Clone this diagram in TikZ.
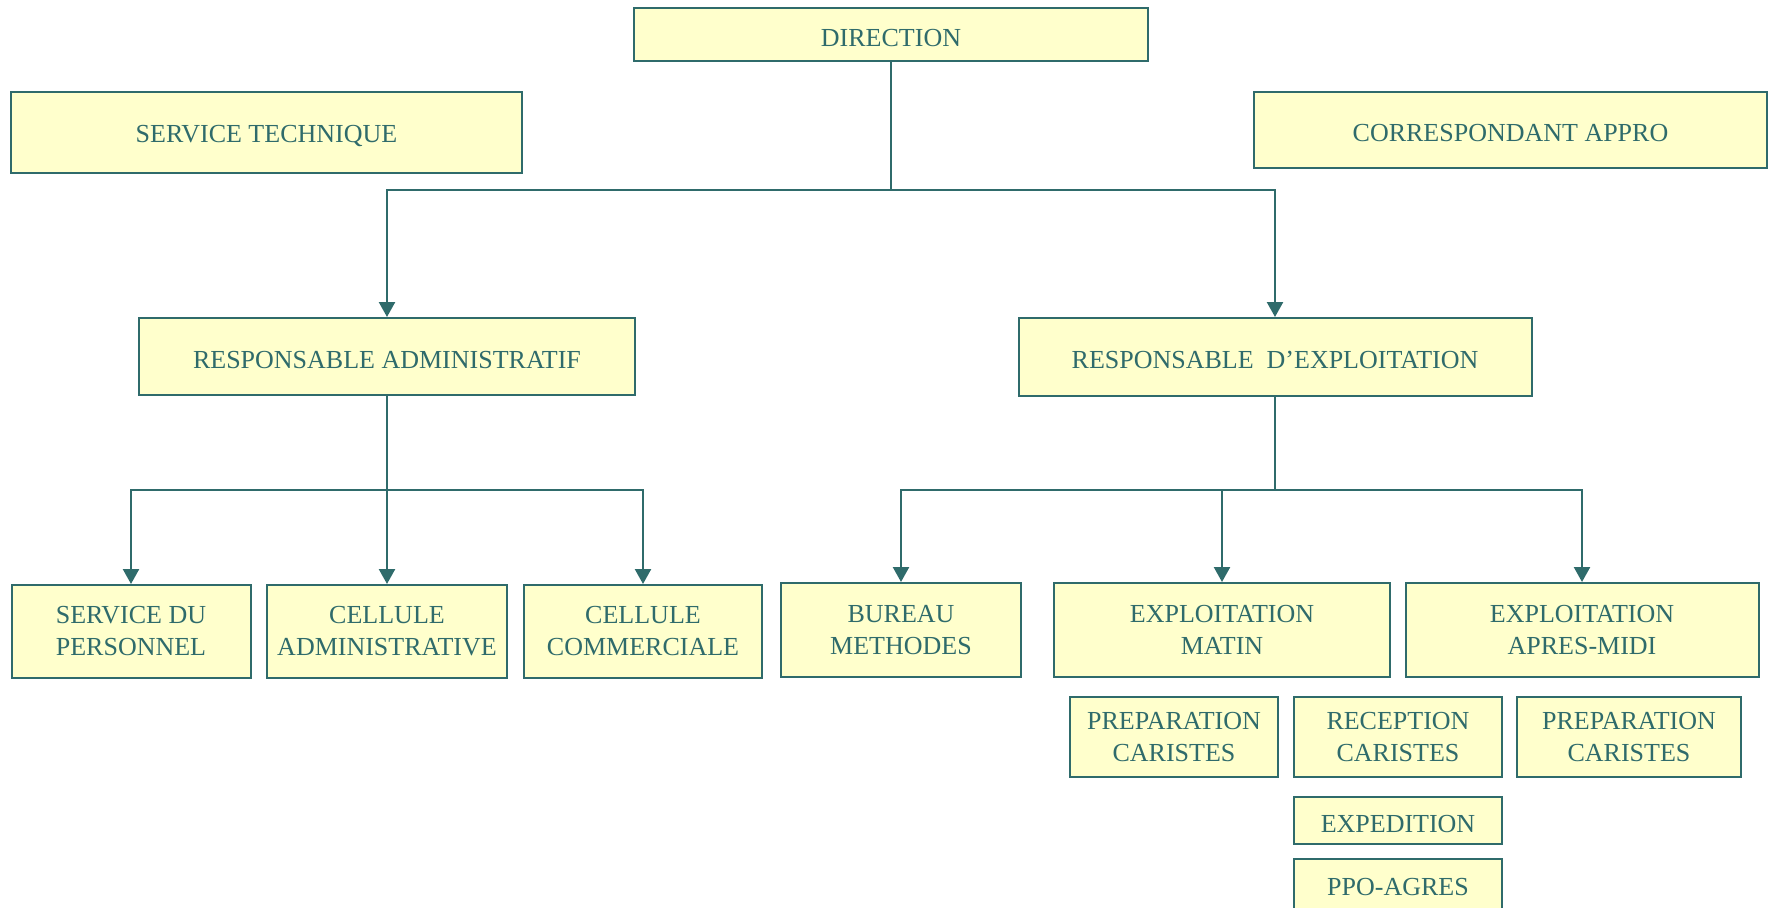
\documentclass[tikz,border=0pt]{standalone}
\usepackage{fontspec}
\setmainfont{Liberation Serif}
\usetikzlibrary{positioning,arrows.meta}
\definecolor{orgline}{HTML}{2F6B6B}
\definecolor{orgfill}{HTML}{FFFFCC}
\begin{document}
\begin{tikzpicture}[x=0.5pt, y=-0.5pt,
  box/.style={draw=orgline, fill=orgfill, line width=1pt, text=orgline, align=center,
    inner sep=0pt, font=\fontsize{13}{16}\selectfont},
  onebox/.style={box, text height=12pt},
  twobox/.style={box, yshift=0pt},
  link/.style={draw=orgline, line width=1.2pt},
  >={Triangle[length=7.5pt, width=8pt]}]
\useasboundingbox (0,0) rectangle (1773,907);
% top level
\node[onebox, minimum width=257pt, minimum height=26.5pt] (dir)   at (891,34.5)   {DIRECTION};
\node[onebox, minimum width=255.5pt, minimum height=40.5pt] (tech) at (266.5,132.5) {SERVICE TECHNIQUE};
\node[onebox, minimum width=256.5pt, minimum height=38pt] (appro) at (1510.5,130) {CORRESPONDANT APPRO};
% managers
\node[onebox, minimum width=248pt, minimum height=38.5pt] (radm) at (387,356.5) {RESPONSABLE ADMINISTRATIF};
\node[onebox, minimum width=256.5pt, minimum height=39pt] (rexp) at (1275,357) {RESPONSABLE\ \ D’EXPLOITATION};
% services
\node[twobox, minimum width=119.5pt, minimum height=46.5pt] (pers) at (131,631.5) {SERVICE DU\\PERSONNEL};
\node[twobox, minimum width=120pt, minimum height=46.5pt] (cadm) at (387,631.5) {CELLULE\\ADMINISTRATIVE};
\node[twobox, minimum width=119pt, minimum height=46.5pt] (ccom) at (643,631.5) {CELLULE\\COMMERCIALE};
\node[twobox, minimum width=120pt, minimum height=47pt] (bur)  at (901,630) {BUREAU\\METHODES};
\node[twobox, minimum width=168pt, minimum height=47pt] (emat) at (1222,630) {EXPLOITATION\\MATIN};
\node[twobox, minimum width=176.5pt, minimum height=47pt] (eapm) at (1582,630) {EXPLOITATION\\APRES-MIDI};
% teams
\node[twobox, minimum width=104pt, minimum height=40pt] (prepm) at (1174,737) {PREPARATION\\CARISTES};
\node[twobox, minimum width=104pt, minimum height=40pt] (recep) at (1398,737) {RECEPTION\\CARISTES};
\node[twobox, minimum width=112pt, minimum height=40pt] (prepa) at (1629,737) {PREPARATION\\CARISTES};
\node[onebox, minimum width=104pt, minimum height=23.5pt] (exped) at (1398,820.5) {EXPEDITION};
\node[onebox, minimum width=104pt, minimum height=25pt] (ppo)   at (1398,884) {PPO-AGRES};
% links
\coordinate (jtop) at (891,190);
\coordinate (jadm) at (387,490);
\coordinate (jexp) at (1275,490);
\draw[link] (dir) -- (jtop);
\foreach \n in {radm,rexp} \draw[link,->] (jtop) -| (\n);
\draw[link] (radm) -- (jadm);
\foreach \n in {pers,cadm,ccom} \draw[link,->] (jadm) -| (\n);
\draw[link] (rexp) -- (jexp);
\foreach \n in {bur,emat,eapm} \draw[link,->] (jexp) -| (\n);
\end{tikzpicture}
\end{document}
